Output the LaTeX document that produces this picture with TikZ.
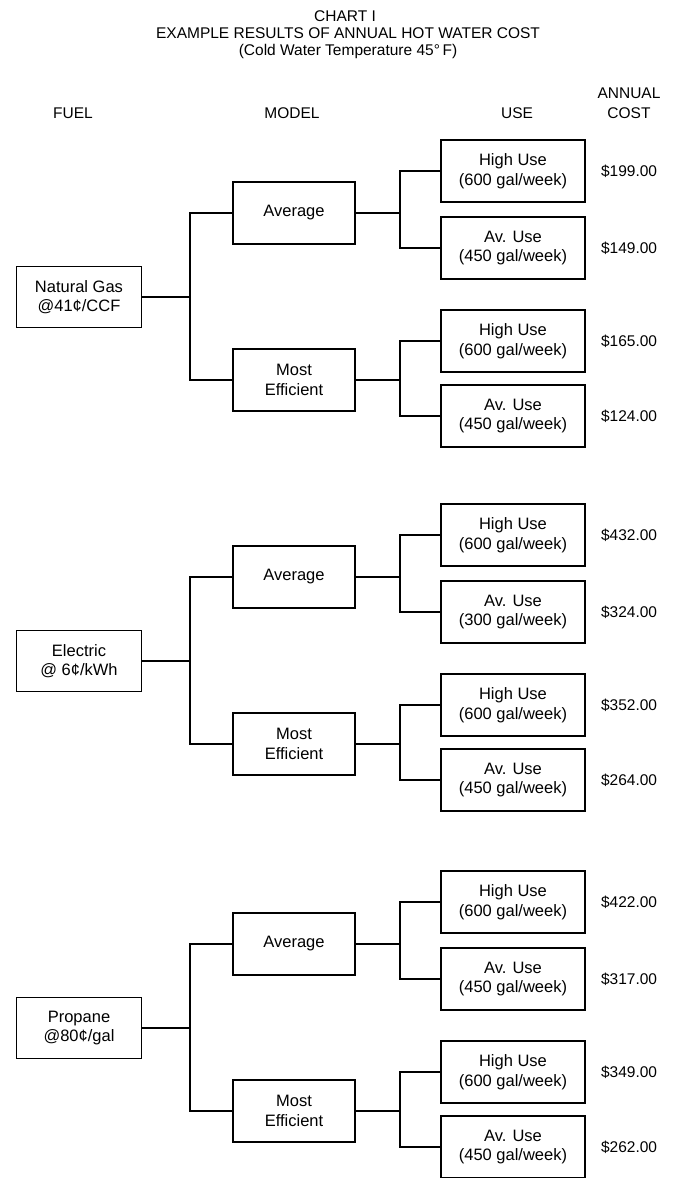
\documentclass[tikz,border=0pt]{standalone}
\usepackage{fontspec}
\setmainfont{Liberation Sans}
\usetikzlibrary{positioning,calc}

\begin{document}
\begin{tikzpicture}[
  x=1pt, y=-1pt,
  box/.style={draw, line width=1.7pt, align=center, inner sep=0pt, minimum height=62pt, font=\fontsize{16.5}{19.5}\selectfont},
  fuelbox/.style={box, minimum width=125pt, minimum height=61pt},
  modelbox/.style={box, minimum width=122pt},
  usebox/.style={box, minimum width=144pt},
  cost/.style={font=\fontsize{15.5}{18}\selectfont, inner sep=0pt},
  head/.style={font=\fontsize{15.5}{18}\selectfont, anchor=base, inner sep=0pt},
  link/.style={line width=1.7pt}
]
\useasboundingbox (0,0) rectangle (673,1178);

% title and column heads
\node[head] (chart) at (345,21) {CHART I};
\node[head] (title) at (348,38) {EXAMPLE RESULTS OF ANNUAL HOT WATER COST};
\node[head] (sub) at (348,55) {(Cold Water Temperature 45°\,F)};
\node[head] (hfuel) at (73,118) {FUEL};
\node[head] (hmodel) at (292,118) {MODEL};
\node[head] (huse) at (517,118) {USE};
\node[head] (hann) at (629,98) {ANNUAL};
\node[head] (hcost) at (629,118) {COST};

% one tree per fuel
\foreach \i/\fy/\fuel/\avuse/\ca/\cb/\cc/\cd in {
  1/297/{Natural Gas\\@41¢/CCF}/450/199.00/149.00/165.00/124.00,
  2/661/{Electric\\@ 6¢/kWh}/300/432.00/324.00/352.00/264.00,
  3/1028/{Propane\\@80¢/gal}/450/422.00/317.00/349.00/262.00}{
  \node[fuelbox] (fuel\i) at (79,\fy) {\fuel};
  \node[modelbox] (avg\i) at (294,\fy-84) {Average};
  \node[modelbox] (eff\i) at (294,\fy+83) {Most\\Efficient};
  \node[usebox] (hiA\i) at (513,\fy-126) {High Use\\(600 gal/week)};
  \node[usebox] (avA\i) at (513,\fy-49) {Av. Use\\(\avuse{} gal/week)};
  \node[usebox] (hiE\i) at (513,\fy+44) {High Use\\(600 gal/week)};
  \node[usebox] (avE\i) at (513,\fy+119) {Av. Use\\(450 gal/week)};
  \node[cost, right=15pt of hiA\i] (cA\i) {\$\ca};
  \node[cost, right=15pt of avA\i] (cB\i) {\$\cb};
  \node[cost, right=15pt of hiE\i] (cC\i) {\$\cc};
  \node[cost, right=15pt of avE\i] (cD\i) {\$\cd};

  \coordinate (jf\i) at (190,\fy);
  \coordinate (ja\i) at (400,\fy-84);
  \coordinate (je\i) at (400,\fy+83);
  \draw[link] (fuel\i) -- (jf\i) (avg\i.west) -| (jf\i) |- (eff\i.west);
  \draw[link] (avg\i) -- (ja\i) (hiA\i.west) -| (ja\i) |- (avA\i.west);
  \draw[link] (eff\i) -- (je\i) (hiE\i.west) -| (je\i) |- (avE\i.west);
}
\end{tikzpicture}
\end{document}
